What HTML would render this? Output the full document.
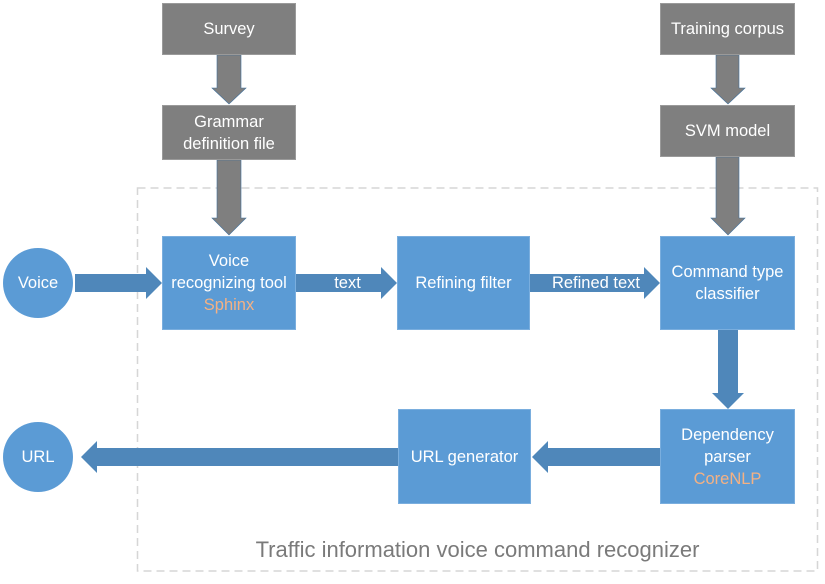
<!DOCTYPE html>
<html><head><style>
html,body{margin:0;padding:0;background:#fff;}
body{width:825px;height:584px;position:relative;overflow:hidden;font-family:"Liberation Sans",sans-serif;}
.b{position:absolute;display:flex;flex-direction:column;align-items:center;justify-content:center;text-align:center;color:#fff;font-size:16.5px;line-height:22px;box-sizing:border-box;white-space:nowrap;}
.blue{background:#5b9bd5;border:1px solid #7aaede;}
.gray{background:#7f7f7f;border:1px solid #9a9a9a;}
.o{color:#f4b183;}
.c{border-radius:50%;background:#5b9bd5;}
</style></head><body>
<svg width="825" height="584" style="position:absolute;left:0;top:0">
<rect x="137.5" y="188" width="680" height="383" fill="none" stroke="#d6d6d6" stroke-width="1.5" stroke-dasharray="8,5"/>
<g fill="#7f7f7f" stroke="#41719c" stroke-width="0.6">
<polygon points="217,55 241,55 241,88 246,88 229,104 212,88 217,88"/>
<polygon points="217,160 241,160 241,218 246,218 229,235 212,218 217,218"/>
<polygon points="716,55 739,55 739,88 745,88 728,104 711,88 716,88"/>
<polygon points="716,157 739,157 739,218 745,218 728,235 711,218 716,218"/>
</g>
<g fill="#4f87ba">
<polygon points="75,274 146,274 146,267 162,283 146,299 146,292 75,292"/>
<polygon points="296,274 381,274 381,267 397,283 381,299 381,292 296,292"/>
<polygon points="530,274 644,274 644,267 660,283 644,299 644,292 530,292"/>
<polygon points="718,330 738,330 738,393 744,393 728,409 712,393 718,393"/>
<polygon points="660,448 548,448 548,441 532,457 548,473 548,466 660,466"/>
<polygon points="398,448 97,448 97,441 81,457 97,473 97,466 398,466"/>
</g>
</svg>
<div class="b gray" style="left:162px;top:3px;width:134px;height:52px;">Survey</div>
<div class="b gray" style="left:162px;top:105px;width:134px;height:55px;">Grammar<br>definition file</div>
<div class="b gray" style="left:660px;top:3px;width:135px;height:52px;">Training corpus</div>
<div class="b gray" style="left:660px;top:105px;width:135px;height:52px;">SVM model</div>
<div class="b c" style="left:3px;top:248px;width:70px;height:70px;">Voice</div>
<div class="b c" style="left:3px;top:422px;width:70px;height:70px;">URL</div>
<div class="b blue" style="left:162px;top:236px;width:134px;height:94px;">Voice<br>recognizing tool<br><span class="o">Sphinx</span></div>
<div class="b blue" style="left:397px;top:236px;width:133px;height:94px;">Refining filter</div>
<div class="b blue" style="left:660px;top:236px;width:135px;height:94px;">Command type<br>classifier</div>
<div class="b blue" style="left:660px;top:409px;width:135px;height:95px;">Dependency<br>parser<br><span class="o">CoreNLP</span></div>
<div class="b blue" style="left:398px;top:409px;width:133px;height:95px;">URL generator</div>
<div class="b" style="left:300px;top:272px;width:95px;height:22px;">text</div>
<div class="b" style="left:536px;top:272px;width:120px;height:22px;">Refined text</div>
<div style="position:absolute;left:137px;top:537px;width:681px;text-align:center;color:#7a7a7a;font-size:22px;">Traffic information voice command recognizer</div>
</body></html>
